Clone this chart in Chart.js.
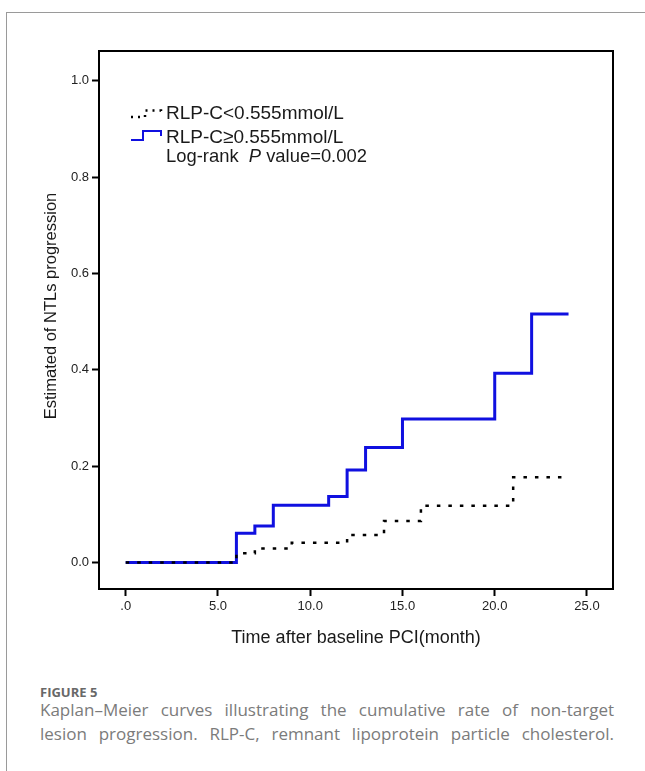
<!DOCTYPE html>
<html>
<head>
<meta charset="utf-8">
<script src="https://cdn.jsdelivr.net/npm/chart.js@4.4.1/dist/chart.umd.min.js"></script>
<style>
  body { margin: 0; background: #fff; width: 645px; height: 771px; overflow: hidden; position: relative; }
  #frame { position: absolute; left: 6px; top: 12px; right: 0; bottom: 0; border-left: 1.5px solid #9a9a9a; border-top: 1.5px solid #9a9a9a; }
  #km-chart { position: absolute; left: 0; top: 0; }
  .fig-label { position: absolute; left: 40px; top: 683.5px; font: bold 13px "Open Sans", Lato, sans-serif; color: #686868; line-height: 16px; }
  .caption { position: absolute; left: 40px; top: 698px; width: 574px; font: 17px "Open Sans", Lato, sans-serif; color: #7b7b7b; line-height: 24px; }
  .caption div { text-align: justify; text-align-last: justify; white-space: nowrap; }
</style>
</head>
<body>
<div id="frame"></div>
<canvas id="km-chart" width="645" height="660"></canvas>
<div class="fig-label">FIGURE 5</div>
<div class="caption">
  <div>Kaplan–Meier curves illustrating the cumulative rate of non-target</div>
  <div>lesion progression. RLP-C, remnant lipoprotein particle cholesterol.</div>
</div>
<script>
// cumulative NTL progression
const lowTime = [0, 6, 7, 9, 12, 14, 16, 21, 24];
const lowRate = [0, 0.019, 0.029, 0.041, 0.057, 0.086, 0.118, 0.177, 0.177];
const highTime = [0, 6, 7, 8, 11, 12, 13, 15, 20, 22, 24];
const highRate = [0, 0.061, 0.076, 0.119, 0.137, 0.192, 0.239, 0.298, 0.393, 0.516, 0.516];

const xTicks = [0, 5, 10, 15, 20, 25];
const xTickLabels = [".0", "5.0", "10.0", "15.0", "20.0", "25.0"];
const yTicks = [0, 0.2, 0.4, 0.6, 0.8, 1.0];
const yTickLabels = ["0.0", "0.2", "0.4", "0.6", "0.8", "1.0"];

const seriesLabels = ["RLP-C<0.555mmol/L", "RLP-C\u22650.555mmol/L"];
const pValueText = ["Log-rank  ", "P", " value=0.002"];
const yTitle = "Estimated of NTLs progression";

const BLUE = "#1010e0";
const SPSS_FONT = '"Liberation Sans", Arial, sans-serif';

const toPoints = (xs, ys) => xs.map((x, i) => ({ x, y: ys[i] }));

const boxPlugin = {
  id: "box",
  afterDatasetsDraw(chart) {
    const { ctx, chartArea: a } = chart;
    ctx.save();
    ctx.strokeStyle = "#000";
    ctx.lineWidth = 2;
    ctx.strokeRect(a.left, a.top, a.right - a.left, a.bottom - a.top);
    ctx.restore();
  },
};

// SPSS puts the y title a little above the plot centre
const yTitlePlugin = {
  id: "yTitle",
  afterDraw(chart) {
    const { ctx, chartArea: a } = chart;
    ctx.save();
    ctx.translate(51, (a.top + a.bottom) / 2 - 14);
    ctx.rotate(-Math.PI / 2);
    ctx.textAlign = "center";
    ctx.textBaseline = "middle";
    ctx.fillStyle = "#1a1a1a";
    ctx.font = "16.5px " + SPSS_FONT;
    ctx.fillText(yTitle, 0, 0);
    ctx.restore();
  },
};

const legendPlugin = {
  id: "kmLegend",
  afterDraw(chart) {
    const { ctx, chartArea: a } = chart;
    const ix = a.left + 32;
    const tx = a.left + 67;
    const rows = [a.top + 63, a.top + 87, a.top + 106];
    ctx.save();

    // dotted step icon
    ctx.strokeStyle = "#000";
    ctx.lineWidth = 2.5;
    ctx.setLineDash([2, 5]);
    ctx.beginPath();
    ctx.moveTo(ix, rows[0] + 3);
    ctx.lineTo(ix + 14, rows[0] + 3);
    ctx.lineTo(ix + 14, rows[0] - 3.5);
    ctx.lineTo(ix + 30, rows[0] - 3.5);
    ctx.lineTo(ix + 30, rows[0] + 2);
    ctx.stroke();

    // solid blue step icon
    ctx.setLineDash([]);
    ctx.strokeStyle = BLUE;
    ctx.lineWidth = 2;
    ctx.beginPath();
    ctx.moveTo(ix, rows[1] + 2);
    ctx.lineTo(ix + 12, rows[1] + 2);
    ctx.lineTo(ix + 12, rows[1] - 7);
    ctx.lineTo(ix + 30, rows[1] - 7);
    ctx.lineTo(ix + 30, rows[1] - 2);
    ctx.stroke();

    ctx.fillStyle = "#1a1a1a";
    ctx.textBaseline = "middle";
    ctx.font = "19px " + SPSS_FONT;
    ctx.fillText(seriesLabels[0], tx, rows[0]);
    ctx.fillText(seriesLabels[1], tx, rows[1]);

    let x = tx;
    ctx.font = "18.4px " + SPSS_FONT;
    ctx.fillText(pValueText[0], x, rows[2]);
    x += ctx.measureText(pValueText[0]).width;
    ctx.font = "italic 18.4px " + SPSS_FONT;
    ctx.fillText(pValueText[1], x, rows[2]);
    x += ctx.measureText(pValueText[1]).width;
    ctx.font = "18.4px " + SPSS_FONT;
    ctx.fillText(pValueText[2], x, rows[2]);
    ctx.restore();
  },
};

const ctx = document.getElementById("km-chart").getContext("2d");

new Chart(ctx, {
  type: "line",
  data: {
    datasets: [
      {
        label: seriesLabels[0],
        data: toPoints(lowTime, lowRate),
        borderColor: "#000",
        borderWidth: 2.5,
        borderDash: [3.5, 8],
        pointRadius: 0,
        stepped: "before",
        fill: false,
      },
      {
        label: seriesLabels[1],
        data: toPoints(highTime, highRate),
        borderColor: BLUE,
        borderWidth: 3,
        pointRadius: 0,
        stepped: "before",
        fill: false,
      },
    ],
  },
  options: {
    responsive: false,
    animation: false,
    devicePixelRatio: 1,
    layout: { padding: { left: 0, top: 51, right: 32, bottom: 0 } },
    plugins: { legend: { display: false }, tooltip: { enabled: false } },
    scales: {
      x: {
        type: "linear",
        min: -1.447,
        max: 26.41,
        afterBuildTicks: (s) => { s.ticks = xTicks.map((v) => ({ value: v })); },
        afterFit: (s) => { s.height = 71; },
        ticks: {
          color: "#222",
          font: { family: SPSS_FONT, size: 13 },
          padding: 3,
          maxRotation: 0,
          autoSkip: false,
          callback: (v, i) => xTickLabels[i],
        },
        grid: { drawOnChartArea: false, tickLength: 7, tickColor: "#000", tickWidth: 2 },
        border: { display: false },
        title: {
          display: true,
          text: "Time after baseline PCI(month)",
          color: "#1a1a1a",
          font: { family: SPSS_FONT, size: 18 },
          padding: { top: 0, bottom: 11.5 },
        },
      },
      y: {
        type: "linear",
        min: -0.055,
        max: 1.062,
        afterBuildTicks: (s) => { s.ticks = yTicks.map((v) => ({ value: v })); },
        afterFit: (s) => { s.width = 99; },
        ticks: {
          color: "#222",
          font: { family: SPSS_FONT, size: 13 },
          padding: 3,
          autoSkip: false,
          callback: (v, i) => yTickLabels[i],
        },
        grid: { drawOnChartArea: false, tickLength: 7, tickColor: "#000", tickWidth: 2 },
        border: { display: false },
      },
    },
  },
  plugins: [boxPlugin, yTitlePlugin, legendPlugin],
});
</script>
</body>
</html>
